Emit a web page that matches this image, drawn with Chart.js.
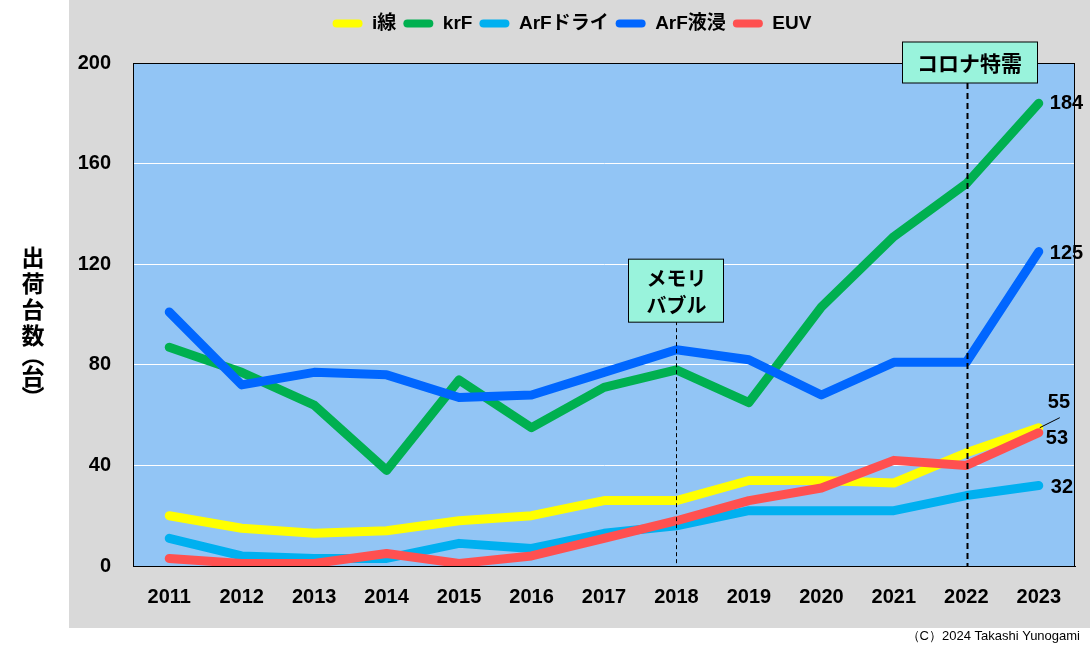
<!DOCTYPE html>
<html>
<head>
<meta charset="utf-8">
<script src="https://cdn.jsdelivr.net/npm/chart.js@4/dist/chart.umd.min.js"></script>
<style>
  html, body { margin: 0; padding: 0; background: #fff; }
  #wrap { width: 1090px; height: 650px; }
</style>
</head>
<body>
<div id="wrap"><canvas id="chart" width="1090" height="650"></canvas></div>
<script>
// data
const years = ['2011', '2012', '2013', '2014', '2015', '2016', '2017', '2018', '2019', '2020', '2021', '2022', '2023'];
const iLine = [20, 15, 13, 14, 18, 20, 26, 26, 34, 34, 33, 45, 55];
const krF = [87, 77, 64, 38, 74, 55, 71, 78, 65, 103, 131, 152, 184];
const arfDry = [11, 4, 3, 3, 9, 7, 13, 16, 22, 22, 22, 28, 32];
const arfImmersion = [101, 72, 77, 76, 67, 68, 77, 86, 82, 68, 81, 81, 125];
const euv = [3, 1, 1, 5, 1, 4, 11, 18, 26, 31, 42, 40, 53];
const seriesNames = ['i線', 'krF', 'ArFドライ', 'ArF液浸', 'EUV'];
const yTicks = [0, 40, 80, 120, 160, 200];
const yTitle = ['出', '荷', '台', '数', '︵', '台', '︶'];

const colors = ['#ffff00', '#00b050', '#00b0f0', '#0066ff', '#ff5050'];
const numFont = "bold 20px 'Liberation Sans', Arial, sans-serif";
const jpFont = "'Noto Sans CJK JP', 'Liberation Sans', sans-serif";

// where the value labels sit relative to the last point
const endLabelOffset = [
    { dx: 9, dy: -25, leader: true },
    { dx: 11, dy: 0 },
    { dx: 12, dy: 2 },
    { dx: 11, dy: 2 },
    { dx: 7, dy: 6 }
];

const pad = { left: 69, right: 15, top: 7, bottom: 22 };

const backdrop = {
    id: 'backdrop',
    beforeLayout(chart) {
        // leave room under the legend for the コロナ特需 box
        const lg = chart.legend;
        if (lg && !lg._tall) {
            const fit = lg.fit;
            lg.fit = function () {
                fit.call(this);
                this.height += 20;
            };
            lg._tall = true;
        }
    },
    beforeDraw(chart) {
        const { ctx, chartArea: a } = chart;
        ctx.save();
        ctx.fillStyle = '#ffffff';
        ctx.fillRect(0, 0, chart.width, chart.height);
        ctx.fillStyle = '#d9d9d9';
        ctx.fillRect(pad.left, 0, chart.width - pad.left, chart.height - pad.bottom);
        ctx.fillStyle = '#92c5f5';
        ctx.fillRect(a.left, a.top, a.right - a.left, a.bottom - a.top);
        ctx.restore();
    }
};

const extras = {
    id: 'extras',
    afterDatasetsDraw(chart) {
        const { ctx, chartArea: a, scales } = chart;
        const x = scales.x, y = scales.y;
        ctx.save();

        // plot border
        ctx.strokeStyle = '#000';
        ctx.lineWidth = 1;
        ctx.strokeRect(a.left + 0.5, a.top + 0.5, a.right - a.left - 1, a.bottom - a.top);

        // メモリバブル marker
        const x18 = Math.round(x.getPixelForValue(7)) + 0.5;
        const boxTop18 = y.getPixelForValue(122);
        ctx.setLineDash([4, 3]);
        ctx.beginPath();
        ctx.moveTo(x18, boxTop18 + 62);
        ctx.lineTo(x18, a.bottom);
        ctx.stroke();
        ctx.setLineDash([]);
        ctx.fillStyle = '#99f3dc';
        ctx.fillRect(x18 - 48, boxTop18, 95, 63);
        ctx.strokeRect(x18 - 48, boxTop18, 95, 63);
        ctx.fillStyle = '#000';
        ctx.font = 'bold 20px ' + jpFont;
        ctx.textAlign = 'center';
        ctx.textBaseline = 'middle';
        ctx.fillText('メモリ', x18, boxTop18 + 19);
        ctx.fillText('バブル', x18, boxTop18 + 46);

        // コロナ特需 marker
        const x22 = Math.round(x.getPixelForValue(11)) + 1.5;
        const boxTop22 = a.top - 21;
        ctx.lineWidth = 2;
        ctx.setLineDash([6, 4]);
        ctx.beginPath();
        ctx.moveTo(x22, boxTop22 + 41);
        ctx.lineTo(x22, a.bottom);
        ctx.stroke();
        ctx.setLineDash([]);
        ctx.lineWidth = 1;
        ctx.fillStyle = '#99f3dc';
        ctx.fillRect(x22 - 65, boxTop22, 135, 41);
        ctx.strokeRect(x22 - 65, boxTop22, 135, 41);
        ctx.fillStyle = '#000';
        ctx.font = 'bold 21px ' + jpFont;
        ctx.fillText('コロナ特需', x22 + 2, boxTop22 + 21);

        // end values
        ctx.font = numFont;
        ctx.textAlign = 'left';
        chart.data.datasets.forEach((ds, i) => {
            const meta = chart.getDatasetMeta(i);
            const last = meta.data[meta.data.length - 1];
            const off = endLabelOffset[i];
            const v = ds.data[ds.data.length - 1];
            ctx.fillStyle = '#000';
            ctx.fillText(String(v), last.x + off.dx, last.y + off.dy);
            if (off.leader) {
                ctx.beginPath();
                ctx.moveTo(last.x + 1, last.y);
                ctx.lineTo(last.x + 21, last.y - 10);
                ctx.stroke();
            }
        });

        ctx.restore();
    },
    afterDraw(chart) {
        const { ctx } = chart;
        ctx.save();
        // vertical axis title, upright characters
        ctx.fillStyle = '#000';
        ctx.font = 'bold 23px ' + jpFont;
        ctx.textAlign = 'center';
        ctx.textBaseline = 'middle';
        const steps = [0, 26, 52, 78, 98, 119, 140];
        yTitle.forEach((ch, i) => ctx.fillText(ch, 33, 257 + steps[i]));

        // copyright
        ctx.font = "13px 'Liberation Sans', sans-serif";
        ctx.textAlign = 'right';
        ctx.fillText('（C）2024 Takashi Yunogami', 1080, 636);
        ctx.restore();
    }
};

const datasets = [iLine, krF, arfDry, arfImmersion, euv].map((vals, i) => ({
    label: seriesNames[i],
    data: vals,
    borderColor: colors[i],
    backgroundColor: colors[i],
    borderWidth: 9,
    pointRadius: 0,
    tension: 0,
    borderCapStyle: 'round',
    borderJoinStyle: 'round',
    order: 10 - i
}));

new Chart(document.getElementById('chart'), {
    type: 'line',
    data: { labels: years, datasets: datasets },
    options: {
        responsive: false,
        animation: false,
        layout: { padding: pad },
        plugins: {
            legend: {
                position: 'top',
                labels: {
                    color: '#000',
                    font: { family: "'Liberation Sans', 'Noto Sans CJK JP', sans-serif", size: 19, weight: 'bold' },
                    boxWidth: 30,
                    boxHeight: 8,
                    padding: 7,
                    useBorderRadius: true,
                    borderRadius: 4,
                    generateLabels: (chart) => chart.data.datasets.map((ds, i) => ({
                        text: ds.label,
                        fillStyle: ds.borderColor,
                        strokeStyle: ds.borderColor,
                        lineWidth: 0,
                        hidden: false,
                        datasetIndex: i,
                        borderRadius: 4,
                        fontColor: '#000'
                    }))
                }
            },
            tooltip: { enabled: false }
        },
        scales: {
            x: {
                offset: true,
                grid: { display: false, drawTicks: false },
                border: { color: '#000' },
                ticks: { color: '#000', font: { family: "'Liberation Sans', Arial", size: 20, weight: 'bold' }, padding: 19, maxRotation: 0 },
                afterFit: (s) => { s.height = 62; }
            },
            y: {
                min: 0,
                max: 200,
                afterBuildTicks: (s) => { s.ticks = yTicks.map(v => ({ value: v })); },
                grid: {
                    color: (c) => (c.tick && (c.tick.value === 0 || c.tick.value === 200)) ? 'rgba(0,0,0,0)' : '#ffffff',
                    drawTicks: false
                },
                border: { color: '#000' },
                ticks: { color: '#000', font: { family: "'Liberation Sans', Arial", size: 20, weight: 'bold' }, padding: 22 },
                afterFit: (s) => { s.width = 64; }
            }
        }
    },
    plugins: [backdrop, extras]
});
</script>
</body>
</html>
